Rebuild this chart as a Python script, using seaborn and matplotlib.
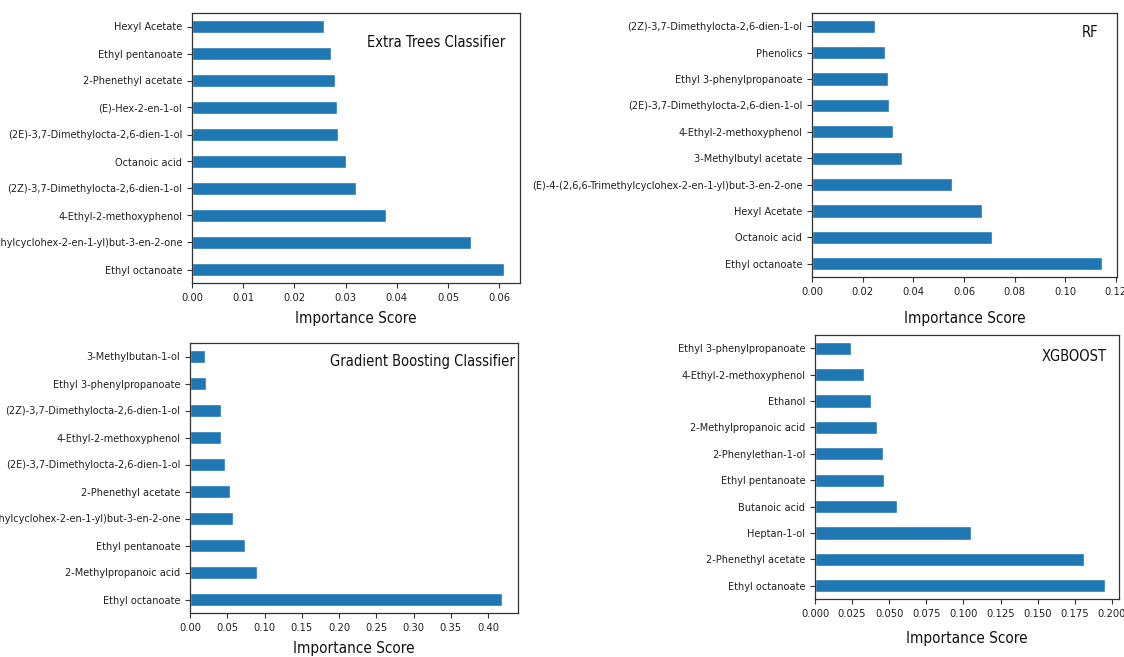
import pandas as pd
import matplotlib
matplotlib.use("Agg")
import matplotlib.pyplot as plt
import seaborn as sns
from matplotlib import font_manager
from matplotlib.ticker import MultipleLocator

# Feature importance values (top row of each panel first)
et_features = ["Hexyl Acetate", "Ethyl pentanoate", "2-Phenethyl acetate", "(E)-Hex-2-en-1-ol",
               "(2E)-3,7-Dimethylocta-2,6-dien-1-ol", "Octanoic acid",
               "(2Z)-3,7-Dimethylocta-2,6-dien-1-ol", "4-Ethyl-2-methoxyphenol",
               "(E)-4-(2,6,6-Trimethylcyclohex-2-en-1-yl)but-3-en-2-one", "Ethyl octanoate"]
et_scores = [0.0258, 0.0271, 0.0279, 0.0283, 0.0285, 0.0300, 0.0321, 0.0378, 0.0545, 0.0610]

rf_features = ["(2Z)-3,7-Dimethylocta-2,6-dien-1-ol", "Phenolics", "Ethyl 3-phenylpropanoate",
               "(2E)-3,7-Dimethylocta-2,6-dien-1-ol", "4-Ethyl-2-methoxyphenol",
               "3-Methylbutyl acetate", "(E)-4-(2,6,6-Trimethylcyclohex-2-en-1-yl)but-3-en-2-one",
               "Hexyl Acetate", "Octanoic acid", "Ethyl octanoate"]
rf_scores = [0.0249, 0.0288, 0.0299, 0.0304, 0.0318, 0.0357, 0.0551, 0.0671, 0.0710, 0.1147]

gb_features = ["3-Methylbutan-1-ol", "Ethyl 3-phenylpropanoate",
               "(2Z)-3,7-Dimethylocta-2,6-dien-1-ol", "4-Ethyl-2-methoxyphenol",
               "(2E)-3,7-Dimethylocta-2,6-dien-1-ol", "2-Phenethyl acetate",
               "(E)-4-(2,6,6-Trimethylcyclohex-2-en-1-yl)but-3-en-2-one", "Ethyl pentanoate",
               "2-Methylpropanoic acid", "Ethyl octanoate"]
gb_scores = [0.0202, 0.0215, 0.0422, 0.0421, 0.0475, 0.0543, 0.0583, 0.0744, 0.0897, 0.4193]

xgb_features = ["Ethyl 3-phenylpropanoate", "4-Ethyl-2-methoxyphenol", "Ethanol",
                "2-Methylpropanoic acid", "2-Phenylethan-1-ol", "Ethyl pentanoate",
                "Butanoic acid", "Heptan-1-ol", "2-Phenethyl acetate", "Ethyl octanoate"]
xgb_scores = [0.0242, 0.0328, 0.0377, 0.0415, 0.0458, 0.0465, 0.0550, 0.1050, 0.1809, 0.1950]

sns.set_style("ticks")
plt.rcParams["font.family"] = ["DejaVu Sans"]

# look for a narrow face, the labels in the picture are condensed
narrow_path = None
for key in ["DejaVuSansCondensed.ttf", "LiberationSansNarrow-Regular", "Condensed-Regular",
            "Narrow-Regular", "SemiCondensed-Regular"]:
    for f in font_manager.fontManager.ttflist:
        if key in f.fname:
            narrow_path = f.fname
            break
    if narrow_path:
        break


def fp(size):
    if narrow_path:
        return font_manager.FontProperties(fname=narrow_path, size=size)
    return font_manager.FontProperties(family="DejaVu Sans", size=size * 0.8)


W, H = 1124, 657
fig = plt.figure(figsize=(W / 100, H / 100), dpi=100)


def px_axes(left, top, right, bottom):
    return fig.add_axes([left / W, 1 - bottom / H, (right - left) / W, (bottom - top) / H])


panels = [
    (et_features, et_scores, "Extra Trees Classifier", (192, 13, 520, 283), 318, 0.955, 0.89, 0.01),
    (rf_features, rf_scores, "RF", (812, 13, 1117, 277), 318, 0.94, 0.925, 0.02),
    (gb_features, gb_scores, "Gradient Boosting Classifier", (190, 343, 518, 613), 648, 0.99, 0.93, 0.05),
    (xgb_features, xgb_scores, "XGBOOST", (815, 335, 1119, 599), 638, 0.96, 0.92, 0.025),
]

for feats, scores, name, box, label_y, tx, ty, step in panels:
    ax = px_axes(*box)
    df = pd.DataFrame({"feature": feats, "score": scores})
    sns.barplot(data=df, x="score", y="feature", orient="h", color="#1f77b4",
                saturation=1, width=0.5, ax=ax)
    ax.set_ylabel("")
    ax.set_xlabel("")
    ax.xaxis.set_major_locator(MultipleLocator(step))
    ax.tick_params(axis="both", length=3.5, color="#333333", labelcolor="#222222")
    for lab in ax.get_xticklabels():
        lab.set_fontproperties(fp(8))
    for lab in ax.get_yticklabels():
        lab.set_fontproperties(fp(7.8))
    for s in ax.spines.values():
        s.set_color("#333333")
        s.set_linewidth(0.9)
    ax.text(tx, ty, name, transform=ax.transAxes, ha="right", va="center",
            fontproperties=fp(10.5), color="#111111")
    cx = (box[0] + box[2]) / 2 / W
    fig.text(cx, 1 - label_y / H, "Importance Score", ha="center", va="center",
             fontproperties=fp(11), color="#111111")

fig.savefig("out.png", dpi=100)
